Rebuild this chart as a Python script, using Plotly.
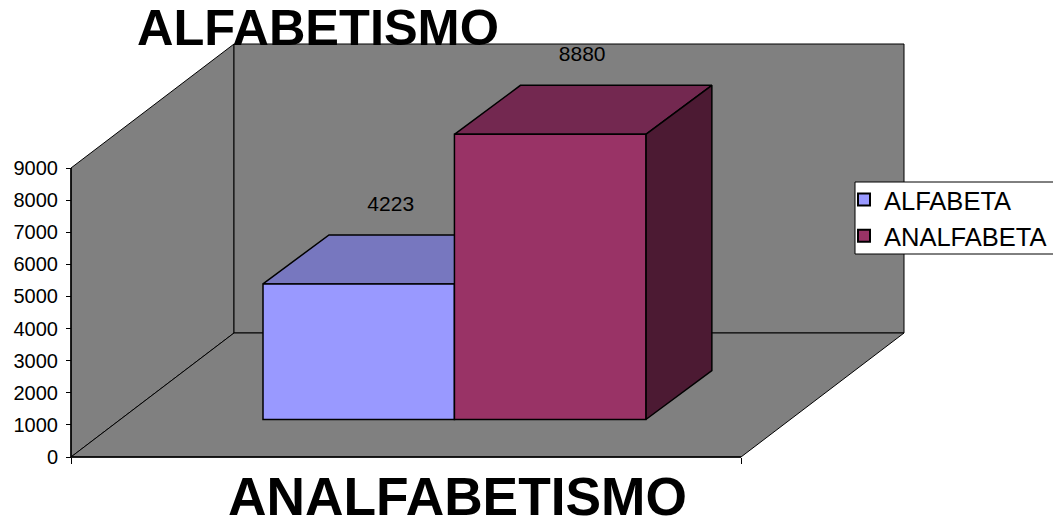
import plotly.graph_objects as go

series_names = ["ALFABETA", "ANALFABETA"]
series_values = [4223, 8880]
y_ticks = [0, 1000, 2000, 3000, 4000, 5000, 6000, 7000, 8000, 9000]
front_colors = ["#9999FF", "#993366"]
top_colors = ["#7777BF", "#732850"]
side_colors = ["#4C4C80", "#4C1A33"]

W, H = 1053, 526
X0, X1 = 71, 741
Y0, Y9 = 457, 168
X_MAX = 3.5
Y_MAX = 9000
px_x = (X1 - X0) / X_MAX
px_y = (Y0 - Y9) / Y_MAX

# Oblique projection depths, in data units
wall_dx, wall_dy = 163 / px_x, 124 / px_y
bar_dx, bar_dy = 66 / px_x, 49 / px_y
bar_base = 37.5 / px_y
bar_start = 1.003
WALL = "#808080"

x_range = [-X0 / px_x, (W - X0) / px_x]
y_range = [-(H - Y0) / px_y, Y0 / px_y]


def face(xs, ys, color, width=1.0):
    return go.Scatter(x=xs, y=ys, mode="lines", fill="toself", fillcolor=color,
                      line=dict(color="black", width=width), hoverinfo="skip",
                      showlegend=False)


fig = go.Figure()
# left wall
fig.add_trace(face([0, wall_dx, wall_dx, 0, 0], [0, wall_dy, Y_MAX + wall_dy, Y_MAX, 0], WALL))
# back wall
fig.add_trace(face([wall_dx, X_MAX + wall_dx, X_MAX + wall_dx, wall_dx, wall_dx],
                   [wall_dy, wall_dy, Y_MAX + wall_dy, Y_MAX + wall_dy, wall_dy], WALL))
# floor
fig.add_trace(face([0, X_MAX, X_MAX + wall_dx, wall_dx, 0], [0, 0, wall_dy, wall_dy, 0], WALL))
# value and category axis lines
fig.add_trace(go.Scatter(x=[0, 0, X_MAX], y=[Y_MAX, 0, 0], mode="lines",
                         line=dict(color="black", width=1.5), hoverinfo="skip", showlegend=False))

for i, v in enumerate(series_values):
    x0, x1 = i + bar_start, i + bar_start + 1
    top = bar_base + v
    fig.add_trace(face([x0, x1, x1 + bar_dx, x0 + bar_dx, x0],
                       [top, top, top + bar_dy, top + bar_dy, top], top_colors[i], 1.5))
    fig.add_trace(face([x1, x1 + bar_dx, x1 + bar_dx, x1, x1],
                       [bar_base, bar_base + bar_dy, top + bar_dy, top, bar_base], side_colors[i], 1.5))

# front faces sit on an overlaid axis so they cover the oblique faces
for i, v in enumerate(series_values):
    fig.add_trace(go.Bar(x=[i + bar_start + 0.5], y=[v], base=[bar_base], width=[1], name=series_names[i],
                         legendgroup=series_names[i],
                         marker=dict(color=front_colors[i], line=dict(color="black", width=1.5)),
                         yaxis="y2", hoverinfo="name+y"))

fig.add_trace(go.Scatter(
    x=[i + bar_start + 0.5 + 32 / px_x for i in range(2)],
    y=[v + bar_base + bar_dy + 29.5 / px_y for v in series_values],
    mode="text", text=[str(v) for v in series_values],
    textposition="middle center", textfont=dict(family="Liberation Sans", size=21, color="black"),
    showlegend=False, hoverinfo="skip", yaxis="y2"))

fig.update_layout(
    width=W, height=H, autosize=False,
    margin=dict(l=0, r=0, t=0, b=0),
    paper_bgcolor="white", plot_bgcolor="rgba(0,0,0,0)",
    font=dict(family="Liberation Sans", color="black"),
    title=dict(text="<b>ALFABETISMO</b>", x=318 / W, xanchor="center",
               y=1 - 27 / H, yanchor="middle", automargin=False,
               font=dict(size=50.5, family="Liberation Sans")),
    barmode="overlay",
    showlegend=True,
    legend=dict(x=844 / W, xanchor="left", y=1 - 176.5 / H, yanchor="top",
                bgcolor="rgba(0,0,0,0)", borderwidth=0,
                font=dict(size=25.5, family="Liberation Sans"),
                itemsizing="constant", traceorder="grouped", tracegroupgap=0),
    shapes=[dict(type="rect", xref="paper", yref="paper", layer="above",
                 x0=855 / W, x1=1.01, y0=1 - 254 / H, y1=1 - 182 / H,
                 fillcolor="white", line=dict(color="black", width=1))],
    annotations=[dict(text="<b>ANALFABETISMO</b>", xref="paper", yref="paper",
                      x=457 / W, y=1 - 496 / H, xanchor="center", yanchor="middle",
                      showarrow=False, font=dict(size=53.3, family="Liberation Sans"))],
    xaxis=dict(domain=[0, 1], range=x_range, showgrid=False, zeroline=False, showline=False,
               anchor="free", position=1 - Y0 / H, automargin=False,
               tickmode="array", tickvals=[0, X_MAX], ticktext=["", ""],
               ticks="outside", ticklen=6, tickcolor="black", tickwidth=1),
    yaxis=dict(domain=[0, 1], range=y_range, showgrid=False, zeroline=False, showline=False,
               anchor="free", position=X0 / W, automargin=False,
               tickmode="array", tickvals=y_ticks, ticks="outside", ticklen=5, tickcolor="black",
               ticklabelstandoff=4, tickfont=dict(size=20, family="Liberation Sans")),
    yaxis2=dict(domain=[0, 1], range=y_range, overlaying="y", visible=False),
)

fig.write_html("out.html", config={"displayModeBar": False},
               post_script="document.body.style.margin='0';")
